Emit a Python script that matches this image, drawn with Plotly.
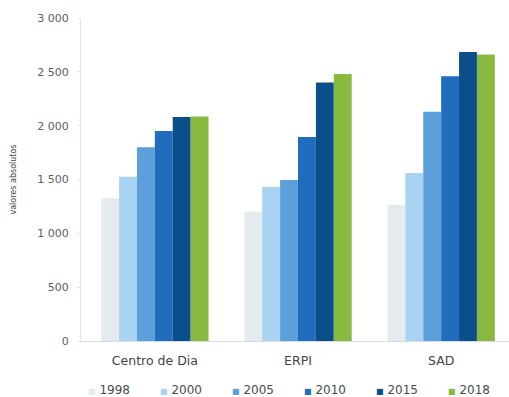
import plotly.graph_objects as go

categories = ["Centro de Dia", "ERPI", "SAD"]
years = ["1998", "2000", "2005", "2010", "2015", "2018"]
values_1998 = [1325, 1200, 1265]
values_2000 = [1525, 1430, 1560]
values_2005 = [1800, 1495, 2130]
values_2010 = [1950, 1895, 2460]
values_2015 = [2080, 2400, 2685]
values_2018 = [2085, 2480, 2660]
tick_values = [0, 500, 1000, 1500, 2000, 2500, 3000]
tick_labels = ["0", "500", "1 000", "1 500", "2 000", "2 500", "3 000"]

series = [values_1998, values_2000, values_2005, values_2010, values_2015, values_2018]
colors = ["#e4ebee", "#a9d3f3", "#5c9fdb", "#1f6dbb", "#0b4f8a", "#8ab93f"]

fig = go.Figure()
for year, vals, col in zip(years, series, colors):
    fig.add_trace(go.Bar(x=categories, y=vals, name=year, marker_color=col,
                         marker_line_width=0, showlegend=False))

# legend entries: small coloured square glyph right next to the year
hidden = dict(size=0, opacity=0, color="rgba(0,0,0,0)")
for year, col in zip(years, colors):
    fig.add_trace(go.Scatter(
        x=[None], y=[None], mode="markers", marker=hidden,
        name=f"<span style='color:{col};font-size:8px'>■</span> {year}",
    ))
# blank trailing slot so the last year's label is not clipped by the legend box
fig.add_trace(go.Scatter(x=[None], y=[None], mode="markers", marker=hidden, name=" "))

font_family = "'DejaVu Sans', sans-serif"
fig.update_layout(
    width=509, height=397,
    margin=dict(l=81, r=0, t=18, b=56, autoexpand=False),
    paper_bgcolor="white", plot_bgcolor="white",
    barmode="group", bargap=0.25, bargroupgap=0,
    font=dict(family=font_family, color="#5a5f63", size=11),
    showlegend=True,
    legend=dict(orientation="h", x=-0.077, xanchor="left", y=-0.1486, yanchor="middle",
                entrywidth=27, entrywidthmode="pixels", itemwidth=30,
                font=dict(size=12, color="#464b4f"), traceorder="normal"),
    xaxis=dict(range=[-0.516, 2.474], showline=True, linecolor="#d9dcde", linewidth=1,
               ticks="", ticklabelstandoff=8,
               tickfont=dict(size=12.5, color="#3f4448"), showgrid=False),
    yaxis=dict(range=[0, 3000], tickvals=tick_values, ticktext=tick_labels,
               showline=True, linecolor="#e3e5e7", linewidth=1, ticks="outside",
               ticklen=3, tickcolor="#e3e5e7", showgrid=False, zeroline=False,
               ticklabelstandoff=6,
               tickfont=dict(size=11, color="#5a5f63"),
               title=dict(text="valores absolutos", font=dict(size=8, color="#3f4448"),
                          standoff=19)),
)

fig.write_html("out.html")
